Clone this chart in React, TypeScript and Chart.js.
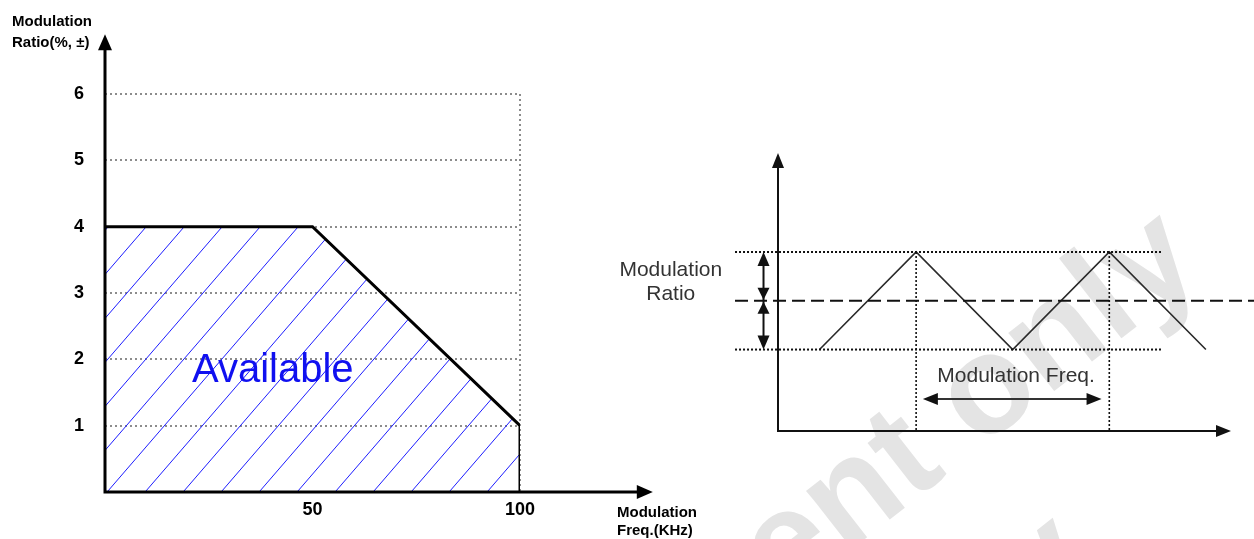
import React, { useEffect, useRef } from 'react';
import { Chart, registerables } from 'chart.js';

Chart.register(...registerables);

// ---------- Left chart: available modulation region ----------
const freqKHz = [0, 50, 100, 100];
const ratioPct = [4, 4, 1, 0];
const xTickValues = [50, 100];
const yTickValues = [1, 2, 3, 4, 5, 6];
const yTitle = ['Modulation', 'Ratio(%, \u00b1)'];
const xTitle = ['Modulation', 'Freq.(KHz)'];
const areaLabel = 'Available';

// ---------- Right diagram: triangular modulation ----------
const waveTime = [0, 1, 2, 3, 4];
const waveLevel = [-1, 1, -1, 1, -1];
const envelopeLevels = [1, -1];
const centerLevel = 0;
const periodMarks = [1, 3];
const ratioLabel = ['Modulation', 'Ratio'];
const freqLabel = 'Modulation Freq.';
const watermarkText = 'Document only';

const SANS = '"Liberation Sans", Arial, Helvetica, sans-serif';
const TICK_FONT = { family: '"Liberation Sans Narrow", "Liberation Sans", Arial, sans-serif', size: 18, weight: 'bold' as const };

function makeHatch(): CanvasPattern | string {
  const w = 38, h = 44;
  const c = document.createElement('canvas');
  c.width = w; c.height = h;
  const g = c.getContext('2d');
  if (!g) return 'rgba(0,0,255,0.1)';
  g.strokeStyle = '#1c1cff';
  g.lineWidth = 1;
  for (const dx of [-w, 0, w]) {
    g.beginPath();
    g.moveTo(dx, h);
    g.lineTo(dx + w, 0);
    g.stroke();
  }
  return g.createPattern(c, 'repeat') || 'rgba(0,0,255,0.1)';
}

function head(ctx: CanvasRenderingContext2D, tx: number, ty: number, dx: number, dy: number, len: number, half: number) {
  const bx = tx - dx * len, by = ty - dy * len;
  ctx.beginPath();
  ctx.moveTo(tx, ty);
  ctx.lineTo(bx - dy * half, by + dx * half);
  ctx.lineTo(bx + dy * half, by - dx * half);
  ctx.closePath();
  ctx.fill();
}

const leftDecor = {
  id: 'leftDecor',
  afterDraw(chart: any) {
    const { ctx, scales: { x, y } } = chart;
    const x0 = x.getPixelForValue(0);
    const y0 = y.getPixelForValue(0);
    const yTip = y.getPixelForValue(6.9);
    const xTip = x.getPixelForValue(132);
    ctx.save();
    ctx.strokeStyle = '#000';
    ctx.fillStyle = '#000';
    ctx.lineWidth = 3;
    ctx.beginPath();
    ctx.moveTo(x0, y0 + 1.5);
    ctx.lineTo(x0, yTip + 12);
    ctx.moveTo(x0 - 1.5, y0);
    ctx.lineTo(xTip - 12, y0);
    ctx.stroke();
    head(ctx, x0, yTip, 0, -1, 16, 7);
    head(ctx, xTip, y0, 1, 0, 16, 7);

    ctx.font = `bold 15px ${SANS}`;
    ctx.textAlign = 'left';
    ctx.textBaseline = 'alphabetic';
    ctx.fillText(yTitle[0], 12, 26);
    ctx.fillText(yTitle[1], 12, 47);
    ctx.fillText(xTitle[0], 617, 517);
    ctx.fillText(xTitle[1], 617, 535);

    ctx.fillStyle = '#1010f0';
    ctx.font = `40px ${SANS}`;
    ctx.fillText(areaLabel, 192, 382);
    ctx.restore();
  },
};

const rightDecor = {
  id: 'rightDecor',
  beforeDraw(chart: any) {
    const { ctx } = chart;
    const a = (-38 * Math.PI) / 180;
    const origins = [[409, 895], [302, 1198]];
    for (const [ox, oy] of origins) {
      ctx.save();
      ctx.fillStyle = '#e4e4e4';
      ctx.font = `bold 140px ${SANS}`;
      ctx.textBaseline = 'alphabetic';
      ctx.textAlign = 'left';
      ctx.translate(ox, oy);
      ctx.rotate(a);
      ctx.fillText(watermarkText, 0, 0);
      ctx.restore();
    }
  },
  afterDraw(chart: any) {
    const { ctx, chartArea, scales: { x, y } } = chart;
    const L = chartArea.left, B = chartArea.bottom;
    ctx.save();
    ctx.strokeStyle = '#111';
    ctx.fillStyle = '#111';
    ctx.lineWidth = 2;
    ctx.beginPath();
    ctx.moveTo(L, B + 1);
    ctx.lineTo(L, chartArea.top + 12);
    ctx.moveTo(L - 1, B);
    ctx.lineTo(chartArea.right - 12, B);
    ctx.stroke();
    head(ctx, L, chartArea.top, 0, -1, 15, 6);
    head(ctx, chartArea.right, B, 1, 0, 15, 6);

    // vertical ratio double arrows
    const ax = x.getPixelForValue(-0.58);
    const yTop = y.getPixelForValue(envelopeLevels[0]);
    const yMid = y.getPixelForValue(centerLevel);
    const yBot = y.getPixelForValue(envelopeLevels[1]);
    ctx.lineWidth = 2;
    ctx.beginPath();
    ctx.moveTo(ax, yTop + 10);
    ctx.lineTo(ax, yBot - 10);
    ctx.stroke();
    head(ctx, ax, yTop, 0, -1, 14, 6);
    head(ctx, ax, yMid - 1, 0, 1, 12, 6);
    head(ctx, ax, yMid + 1, 0, -1, 12, 6);
    head(ctx, ax, yBot, 0, 1, 14, 6);

    // horizontal frequency double arrow
    const hy = y.getPixelForValue(-2.015);
    const hx1 = x.getPixelForValue(1.07);
    const hx2 = x.getPixelForValue(2.92);
    ctx.strokeStyle = '#333';
    ctx.fillStyle = '#111';
    ctx.beginPath();
    ctx.moveTo(hx1 + 10, hy);
    ctx.lineTo(hx2 - 10, hy);
    ctx.stroke();
    head(ctx, hx1, hy, -1, 0, 15, 6);
    head(ctx, hx2, hy, 1, 0, 15, 6);

    ctx.fillStyle = '#333';
    ctx.font = `21px ${SANS}`;
    ctx.textAlign = 'center';
    ctx.textBaseline = 'alphabetic';
    const lx = x.getPixelForValue(-1.54);
    ctx.fillText(ratioLabel[0], lx, y.getPixelForValue(0.5));
    ctx.fillText(ratioLabel[1], lx, y.getPixelForValue(0.02));
    ctx.fillText(freqLabel, x.getPixelForValue(2.035), y.getPixelForValue(-1.67));
    ctx.restore();
  },
};

function leftConfig(): any {
  return {
    type: 'line',
    data: {
      datasets: [
        {
          data: freqKHz.map((f, i) => ({ x: f, y: ratioPct[i] })),
          borderColor: '#000',
          borderWidth: 3,
          pointRadius: 0,
          tension: 0,
          fill: 'origin',
          backgroundColor: makeHatch(),
        },
      ],
    },
    options: {
      responsive: false,
      animation: false,
      events: [],
      layout: { padding: { left: 0, top: 94, right: 734, bottom: 0 } },
      plugins: { legend: { display: false }, tooltip: { enabled: false }, title: { display: false } },
      scales: {
        x: {
          type: 'linear',
          min: 0,
          max: 100,
          afterBuildTicks: (s: any) => { s.ticks = xTickValues.map((v) => ({ value: v })); },
          afterFit: (s: any) => { s.height = 47; },
          ticks: { font: TICK_FONT, color: '#000', padding: 7, maxRotation: 0, autoSkip: false, callback: (v: any) => String(v) },
          grid: {
            drawTicks: false,
            lineWidth: 2,
            color: (c: any) => (c.tick && c.tick.value === 100 ? '#8c8c8c' : 'rgba(0,0,0,0)'),
          },
          border: { display: false, dash: [2, 3] },
        },
        y: {
          type: 'linear',
          min: 0,
          max: 6,
          afterBuildTicks: (s: any) => { s.ticks = yTickValues.map((v) => ({ value: v })); },
          afterFit: (s: any) => { s.width = 105; },
          ticks: { font: TICK_FONT, color: '#000', padding: 21, callback: (v: any) => String(v) },
          grid: { drawTicks: false, lineWidth: 2, color: '#8c8c8c' },
          border: { display: false, dash: [2, 3] },
        },
      },
    },
    plugins: [leftDecor],
  };
}

function rightConfig(): any {
  const yMin = -2.67;
  const envStart = -0.875;
  const envEnd = 3.535;
  const dashEnd = 4.5;
  const dotted = { borderColor: '#111', borderWidth: 2, borderDash: [2, 2], pointRadius: 0, clip: false, fill: false };
  return {
    type: 'line',
    data: {
      datasets: [
        ...envelopeLevels.map((lv) => ({ ...dotted, data: [{ x: envStart, y: lv }, { x: envEnd, y: lv }] })),
        ...periodMarks.map((t) => ({ ...dotted, borderWidth: 1.6, data: [{ x: t, y: envelopeLevels[0] }, { x: t, y: yMin }] })),
        {
          data: [{ x: envStart, y: centerLevel }, { x: dashEnd, y: centerLevel }],
          borderColor: '#111', borderWidth: 2, borderDash: [13, 6], pointRadius: 0, clip: false, fill: false,
        },
        {
          data: waveTime.map((t, i) => ({ x: t, y: waveLevel[i] })),
          borderColor: '#2a2a2a', borderWidth: 1.6, pointRadius: 0, tension: 0, clip: false, fill: false,
        },
      ],
    },
    options: {
      responsive: false,
      animation: false,
      events: [],
      layout: { padding: { left: 778, right: 23, top: 153, bottom: 108 } },
      plugins: { legend: { display: false }, tooltip: { enabled: false }, title: { display: false } },
      scales: {
        x: { type: 'linear', display: false, min: -0.43, max: 4.26 },
        y: { type: 'linear', display: false, min: yMin, max: 3.03 },
      },
    },
    plugins: [rightDecor],
  };
}

export default function App() {
  const leftRef = useRef<HTMLCanvasElement>(null);
  const rightRef = useRef<HTMLCanvasElement>(null);
  useEffect(() => {
    if (!leftRef.current || !rightRef.current) return;
    const left = new Chart(leftRef.current, leftConfig());
    const right = new Chart(rightRef.current, rightConfig());
    return () => {
      left.destroy();
      right.destroy();
    };
  }, []);
  return (
    <div style={{ position: 'fixed', left: 0, top: 0, width: 1254, height: 539, background: '#fff', overflow: 'hidden' }}>
      <canvas ref={leftRef} width={1254} height={539} style={{ position: 'absolute', left: 0, top: 0 }} />
      <canvas ref={rightRef} width={1254} height={539} style={{ position: 'absolute', left: 0, top: 0 }} />
    </div>
  );
}
